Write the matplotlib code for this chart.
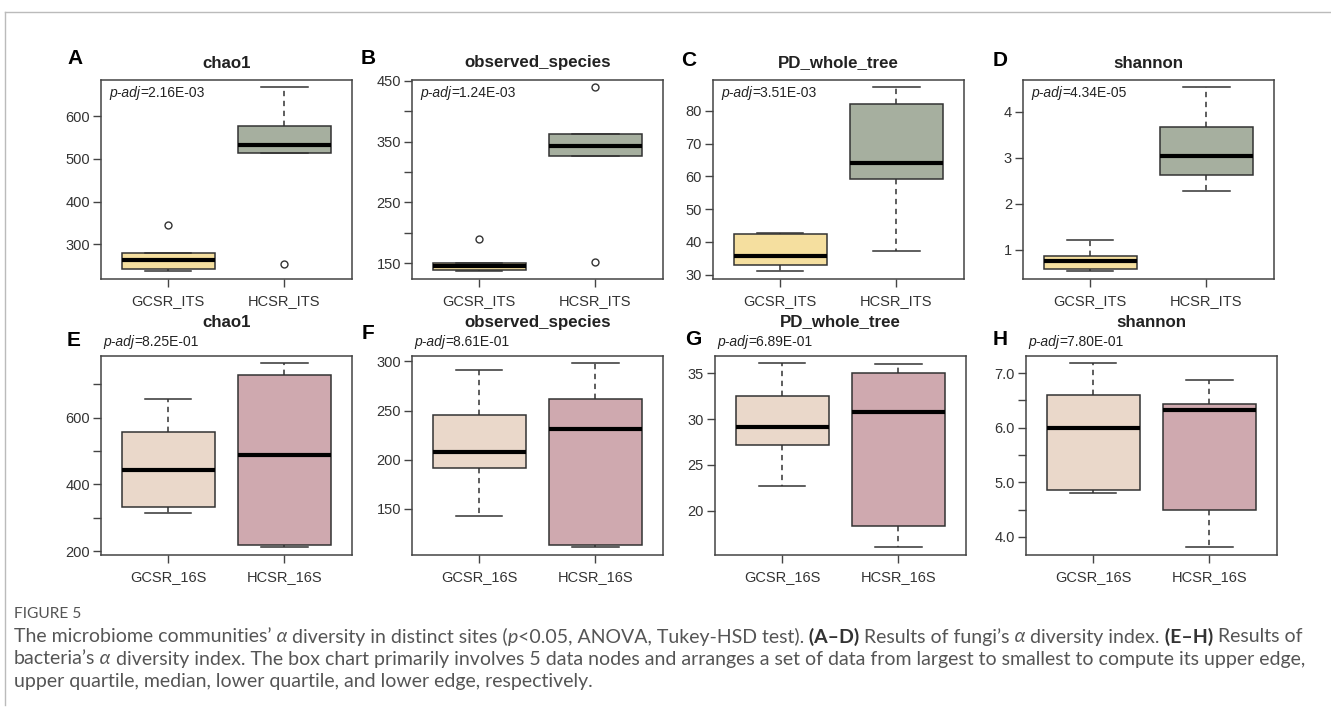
import matplotlib
matplotlib.use("Agg")
import matplotlib.pyplot as plt
from matplotlib.lines import Line2D

plt.rcParams['font.family'] = ['Liberation Sans', 'DejaVu Sans']

W, H = 1331, 713

# panel texts
letters = ['A', 'B', 'C', 'D', 'E', 'F', 'G', 'H']
titles = ['chao1', 'observed_species', 'PD_whole_tree', 'shannon'] * 2
padj = ['2.16E-03', '1.24E-03', '3.51E-03', '4.34E-05',
        '8.25E-01', '8.61E-01', '6.89E-01', '7.80E-01']
groups_its = ['GCSR_ITS', 'HCSR_ITS']
groups_16s = ['GCSR_16S', 'HCSR_16S']

# five numbers per box: lower edge, lower quartile, median, upper quartile, upper edge
gcsr_stats = [
    [237, 241, 262, 279, 279],
    [137, 139, 146, 151, 151],
    [31.1, 33.0, 35.7, 42.3, 42.8],
    [0.54, 0.59, 0.75, 0.86, 1.22],
    [314, 331, 442, 558, 655],
    [143, 192, 208, 245, 291],
    [22.7, 27.2, 29.1, 32.5, 36.1],
    [4.81, 4.85, 5.99, 6.60, 7.18],
]
hcsr_stats = [
    [515, 515, 532, 577, 668],
    [326, 326, 343, 362, 362],
    [37.1, 59.3, 64.0, 82.0, 87.2],
    [2.27, 2.63, 3.03, 3.67, 4.53],
    [212, 218, 489, 727, 763],
    [111, 113, 231, 262, 298],
    [16.0, 18.3, 30.8, 35.0, 36.0],
    [3.81, 4.50, 6.33, 6.44, 6.88],
]
gcsr_out = [[345], [190], [], [], [], [], [], []]
hcsr_out = [[253], [439, 152], [], [], [], [], [], []]

yticks = [
    [300, 400, 500, 600],
    [150, 200, 250, 300, 350, 400, 450],
    [30, 40, 50, 60, 70, 80],
    [1, 2, 3, 4],
    [200, 300, 400, 500, 600, 700],
    [150, 200, 250, 300],
    [20, 25, 30, 35],
    [4.0, 4.5, 5.0, 5.5, 6.0, 6.5, 7.0],
]
ylabels = [
    ['300', '400', '500', '600'],
    ['150', '', '250', '', '350', '', '450'],
    ['30', '40', '50', '60', '70', '80'],
    ['1', '2', '3', '4'],
    ['200', '', '400', '', '600', ''],
    ['150', '200', '250', '300'],
    ['20', '25', '30', '35'],
    ['4.0', '', '5.0', '', '6.0', '', '7.0'],
]

its_colors = ['#F5DF9F', '#A6AF9F']
s16_colors = ['#EAD8CA', '#CFA9AF']

cap_line1 = [
    ('The microbiome communities’', ''), (' α', 'i'),
    (' diversity in distinct sites (', ''), ('p', 'i'),
    ('<0.05, ANOVA, Tukey-HSD test).', ''), (' (A–D)', 'b'),
    (' Results of fungi’s', ''), (' α', 'i'), (' diversity index.', ''),
    (' (E–H)', 'b'), (' Results of', ''),
]
cap_line2 = [
    ('bacteria’s', ''), (' α', 'i'),
    (' diversity index. The box chart primarily involves 5 data nodes and arranges '
     'a set of data from largest to smallest to compute its upper edge,', ''),
]
cap_line3 = [
    ('upper quartile, median, lower quartile, and lower edge, respectively.', ''),
]

# axes placement in pixels (left, top)
lefts = [101, 412, 713, 1023, 101, 412, 715, 1026]
tops = [80] * 4 + [356] * 4
aw, ah = 250.6, 198.5
letter_xy = [(67, 58), (361, 58), (681, 60), (993, 60),
             (67, 340), (362, 334), (685, 339), (993, 339)]

fig = plt.figure(figsize=(W / 100, H / 100), dpi=100)
r = fig.canvas.get_renderer()

styles = {'': {}, 'i': dict(style='italic'), 'b': dict(fontweight='bold', color='#333333')}


def put_runs(x, y, runs, **kw):
    for txt, st in runs:
        props = dict(kw)
        props.update(styles[st])
        t = fig.text(x / W, 1 - y / H, txt, va='center', ha='left', **props)
        x += t.get_window_extent(r).width


edge = '#333333'
for i in range(8):
    ax = fig.add_axes([lefts[i] / W, 1 - (tops[i] + ah) / H, aw / W, ah / H])
    stats = []
    for five, out in ((gcsr_stats[i], gcsr_out[i]), (hcsr_stats[i], hcsr_out[i])):
        stats.append(dict(whislo=five[0], q1=five[1], med=five[2], q3=five[3],
                          whishi=five[4], fliers=out))
    bp = ax.bxp(stats, positions=[1, 2], widths=0.8, capwidths=0.4,
                patch_artist=True, showfliers=True,
                boxprops=dict(edgecolor=edge, linewidth=1.1),
                whiskerprops=dict(color=edge, linestyle=(0, (3.5, 3)), linewidth=1.1),
                capprops=dict(color=edge, linewidth=1.1),
                medianprops=dict(color='black', linewidth=3, solid_capstyle='butt'),
                flierprops=dict(marker='o', markerfacecolor='none',
                                markeredgecolor=edge, markersize=5, markeredgewidth=1))
    colors = its_colors if i < 4 else s16_colors
    for patch, c in zip(bp['boxes'], colors):
        patch.set_facecolor(c)

    # R style 4% padding on both axes
    allv = gcsr_stats[i] + hcsr_stats[i] + gcsr_out[i] + hcsr_out[i]
    lo, hi = min(allv), max(allv)
    pad = (hi - lo) * 0.04
    ax.set_ylim(lo - pad, hi + pad)
    ax.set_xlim(0.42, 2.58)

    ax.set_yticks(yticks[i])
    ax.set_yticklabels(ylabels[i])
    ax.set_xticks([1, 2])
    ax.set_xticklabels(groups_its if i < 4 else groups_16s)
    ax.tick_params(axis='both', length=6, width=1, color='#444444',
                   labelsize=10.5, labelcolor='#333333')
    ax.tick_params(axis='y', pad=2)
    ax.tick_params(axis='x', pad=5)
    for s in ax.spines.values():
        s.set_color('#444444')
        s.set_linewidth(1.1)

    cx = (lefts[i] + aw / 2) / W
    ty = 63 if i < 4 else 322
    fig.text(cx, 1 - ty / H, titles[i], ha='center', va='center',
             fontsize=12.2, fontweight='bold', color='#222222')
    lx, ly = letter_xy[i]
    fig.text(lx / W, 1 - ly / H, letters[i], ha='left', va='center',
             fontsize=15, fontweight='bold', color='black')
    if i < 4:
        px, py = lefts[i] + 8, 93
    else:
        px, py = lefts[i] + 2, 342
    put_runs(px, py, [('p-adj', 'i'), ('=' + padj[i], '')],
             fontsize=10, color='#222222')

# frame lines of the figure page
fig.add_artist(Line2D([5 / W, 1], [1 - 12 / H, 1 - 12 / H], color='#bbbbbb', lw=1))
fig.add_artist(Line2D([5 / W, 5 / W], [1 - 12 / H, 1 - 705 / H], color='#bbbbbb', lw=1))

# caption: size chosen so the second line spans the text block width
cap_font = ['Lato', 'DejaVu Sans']
probe = fig.text(0, 0, ''.join(t for t, _ in cap_line2), fontsize=10, family=cap_font)
cap_size = 10 * 1290 / probe.get_window_extent(r).width
probe.remove()

cap = dict(family=cap_font, fontsize=cap_size, color='#555555')
fig.text(14 / W, 1 - 614 / H, 'FIGURE 5', ha='left', va='center',
         family=cap_font, fontsize=cap_size * 0.8, color='#555555')
put_runs(14, 637, cap_line1, **cap)
put_runs(14, 659, cap_line2, **cap)
put_runs(14, 681, cap_line3, **cap)

fig.savefig('out.png', dpi=100)
